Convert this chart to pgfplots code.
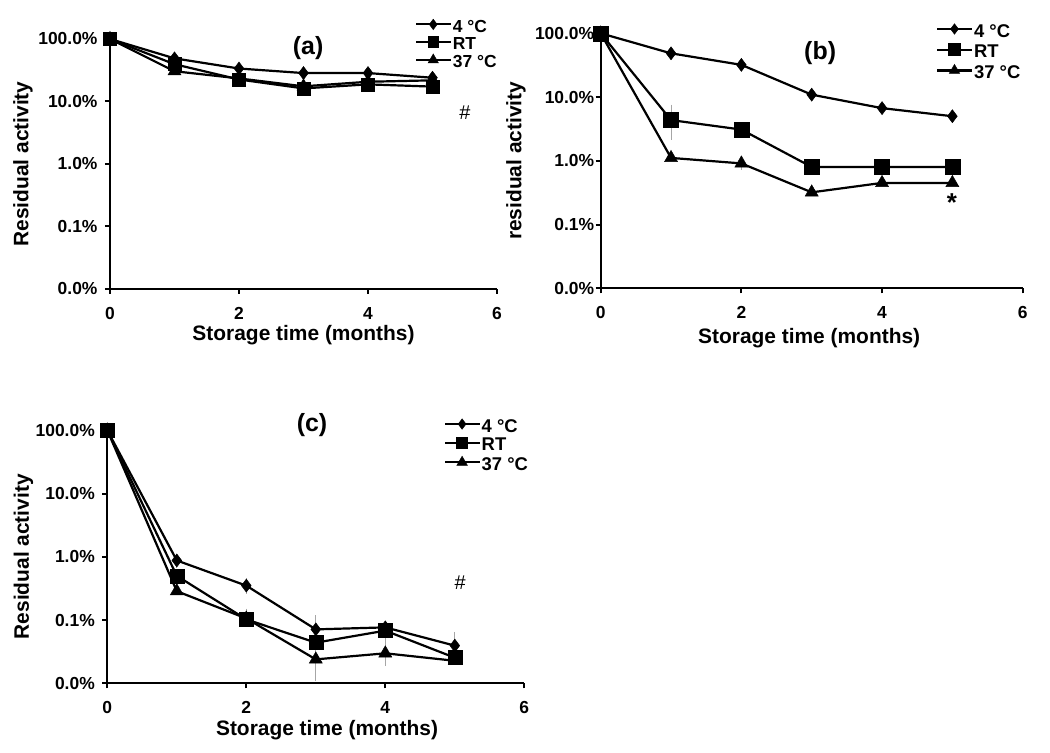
\documentclass[border=0pt]{standalone}
\usepackage{pgfplots}
\pgfplotsset{compat=1.18}
\usepackage{fontspec}
\setmainfont{Liberation Sans}
\pgfplotsset{
  every axis/.append style={
    scale only axis, xmin=0, xmax=6, ymin=0.01, ymax=100,
    axis lines=left, axis line style={-, line width=2bp},
    xtick={0,2,4,6}, xticklabels={0,2,4,6},
    ytick={0.01,0.1,1,10,100}, yticklabels={0.0\%,0.1\%,1.0\%,10.0\%,100.0\%},
    yminorticks=false, xminorticks=false,
    tick align=outside, major tick length=5bp, major tick style={line width=2bp, black},
    tick label style={font=\fontsize{17.5}{17.5}\selectfont\bfseries},
    xticklabel style={yshift=-10bp},
    label style={font=\fontsize{21}{21}\selectfont\bfseries},
    clip=false,
    legend cell align=left,
    legend style={draw=none, fill=none, anchor=north west, inner sep=0pt,
      font=\fontsize{18.5}{18.5}\selectfont\bfseries,
      nodes={inner sep=0.5bp, text height=12.5bp, text depth=2.5bp}},
  },
  legend image code/.code={\draw[mark repeat=2,mark phase=2, every mark/.append style={scale=0.8}] plot coordinates {(0bp,3bp) (17bp,3bp) (35bp,3bp)};},
  s4/.style={black, line width=2.2bp, mark=diamond*, mark size=6.5bp, mark options={solid, fill=black, line width=0.5bp}},
  sRT/.style={black, line width=2.2bp, mark=square*, mark size=#1, mark options={solid, fill=black, line width=0.5bp}},
  sRT/.default=6.5bp,
  s37/.style={black, line width=2.2bp, mark=triangle*, mark size=7.5bp, mark options={solid, fill=black, line width=0.5bp}},
  eb/.style={error bars/y dir=both, error bars/y explicit,
    error bars/error bar style={gray!70, line width=0.8bp},
    error bars/error mark options={gray!70, mark size=3bp, line width=0.8bp}},
}
\begin{document}
\begin{tikzpicture}[font=\bfseries]
\useasboundingbox (0,0) rectangle (1050bp,753bp);

% ---------------- (a)
\begin{semilogyaxis}[width=387bp, height=250bp, at={(110bp,464bp)}, anchor=south west,
  yticklabel style={xshift=-4bp},
  xlabel={Storage time (months)}, ylabel={Residual activity},
  xlabel style={at={(axis description cs:0.5,-0.186)}, anchor=center},
  ylabel style={at={(axis description cs:-0.225,0.5)}, anchor=center},
  legend style={at={(axis description cs:0.788,1.08)}, row sep=1.2bp, font=\fontsize{17.5}{17.5}\selectfont\bfseries}]
\addplot[s4] coordinates {(0,100) (1,49) (2,33.7) (3,28.5) (4,28.5) (5,24)};
\addplot[sRT] coordinates {(0,100) (1,39.5) (2,22.5) (3,16.2) (4,18.8) (5,17.3)};
\addplot[s37] coordinates {(0,100) (1,30.5) (2,23.4) (3,17.5) (4,20.7) (5,21.8)};
\legend{4 °C, RT, 37 °C}
\node[font=\fontsize{25}{25}\selectfont\bfseries] at (axis description cs:0.512,0.964) {(a)};
\node[font=\fontsize{20}{20}\selectfont\mdseries] at (axis description cs:0.917,0.704) {\#};
\end{semilogyaxis}

% ---------------- (b)
\begin{semilogyaxis}[width=422bp, height=255bp, at={(600.7bp,464.7bp)}, anchor=south west,
  yticklabel style={xshift=2bp},
  xlabel={Storage time (months)}, ylabel={residual activity},
  xlabel style={at={(axis description cs:0.494,-0.196)}, anchor=center},
  ylabel style={at={(axis description cs:-0.201,0.5)}, anchor=center},
  legend style={at={(axis description cs:0.795,1.038)}, row sep=3.7bp}]
\addplot[s4, eb] coordinates {(0,100) +- (0,0) (1,48.5) +- (0,0) (2,32) +- (0,0) (3,10.9) +- (0,0) (4,6.7) +- (0,0.5) (5,5.0) +- (0,0)};
\addplot[sRT=7.5bp, eb] coordinates {(0,100) +- (0,0) (1,4.35) += (0,2.45) -= (0,1.95) (2,3.09) +- (0,0.4) (3,0.8) +- (0,0) (4,0.8) +- (0,0) (5,0.8) +- (0,0)};
\addplot[s37, eb] coordinates {(0,100) +- (0,0) (1,1.11) +- (0,0) (2,0.91) +- (0,0.1) (3,0.32) +- (0,0) (4,0.45) +- (0,0) (5,0.45) +- (0,0)};
\legend{4 °C, RT, 37 °C}
\node[font=\fontsize{25}{25}\selectfont\bfseries] at (axis description cs:0.52,0.923) {(b)};
\node[font=\fontsize{26}{26}\selectfont\bfseries] at (axis description cs:0.8325,0.3345) {*};
\end{semilogyaxis}

% ---------------- (c)
\begin{semilogyaxis}[width=417bp, height=253bp, at={(107.3bp,69.7bp)}, anchor=south west,
  yticklabel style={xshift=-4bp},
  xlabel={Storage time (months)}, ylabel={Residual activity},
  xlabel style={at={(axis description cs:0.527,-0.184)}, anchor=center},
  ylabel style={at={(axis description cs:-0.201,0.5)}, anchor=center},
  legend style={at={(axis description cs:0.807,1.046)}, row sep=2.3bp}]
\addplot[s4, eb] coordinates {(0,100) +- (0,0) (1,0.875) +- (0,0.12) (2,0.35) +- (0,0.06) (3,0.0712) += (0,0.035) -= (0,0) (4,0.0766) +- (0,0.005) (5,0.0394) += (0,0.019) -= (0,0)};
\addplot[sRT=7bp, eb] coordinates {(0,100) +- (0,0) (1,0.50) +- (0,0) (2,0.1024) += (0,0.033) -= (0,0.01) (3,0.0439) +- (0,0) (4,0.068) += (0,0) -= (0,0.024) (5,0.0254) +- (0,0)};
\addplot[s37, eb] coordinates {(0,100) +- (0,0) (1,0.286) +- (0,0) (2,0.106) +- (0,0) (3,0.0239) += (0,0.01) -= (0,0.0118) (4,0.0298) += (0,0.006) -= (0,0.009) (5,0.0227) +- (0,0)};
\legend{4 °C, RT, 37 °C}
\node[font=\fontsize{25}{25}\selectfont\bfseries] at (axis description cs:0.491,1.021) {(c)};
\node[font=\fontsize{20}{20}\selectfont\mdseries] at (axis description cs:0.846,0.398) {\#};
\end{semilogyaxis}
\end{tikzpicture}
\end{document}
